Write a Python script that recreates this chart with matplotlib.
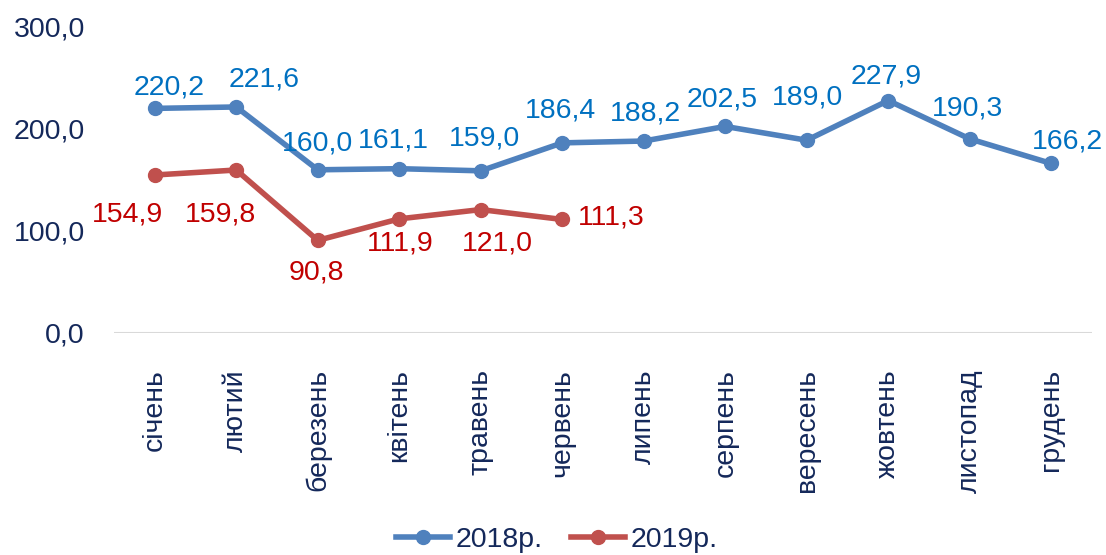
import matplotlib
matplotlib.use("Agg")
import matplotlib.pyplot as plt

months = ["січень", "лютий", "березень", "квітень", "травень", "червень",
          "липень", "серпень", "вересень", "жовтень", "листопад", "грудень"]
v2018 = [220.2, 221.6, 160.0, 161.1, 159.0, 186.4, 188.2, 202.5, 189.0, 227.9, 190.3, 166.2]
v2019 = [154.9, 159.8, 90.8, 111.9, 121.0, 111.3]
yticks = [0, 100, 200, 300]

# label offsets in pixels (dx right, dy up)
off2018 = [(14, 21), (28, 27), (0, 26), (-6, 28), (4, 32), (-2, 32),
           (2, 28), (-3, 27), (1, 43), (-2, 24), (-2, 30), (16, 22)]
off2019 = [(-27, -39), (-16, -44), (-1, -32), (1, -25), (17, -34), (49, 2)]

plt.rcParams['font.family'] = ['Liberation Sans', 'DejaVu Sans']
navy = "#14285A"
blue, red = "#4F81BD", "#C0504D"
blue_lbl, red_lbl = "#0070C0", "#C00000"
fs = 20.5

fig = plt.figure(figsize=(11.06, 5.55), dpi=100)
ax = fig.add_axes([114/1106, 1-333/555, (1092-114)/1106, (333-27)/555])
x = list(range(len(months)))
ax.plot(x, v2018, color=blue, lw=4, marker='o', ms=10, label="2018р.", zorder=3)
ax.plot(x[:len(v2019)], v2019, color=red, lw=4, marker='o', ms=10, label="2019р.", zorder=3)

def fmt(v):
    return f"{v:.1f}".replace(".", ",")

for i, v in enumerate(v2018):
    dx, dy = off2018[i]
    ax.annotate(fmt(v), (i, v), xytext=(dx, dy), textcoords='offset pixels',
                ha='center', va='center', color=blue_lbl, fontsize=fs)
for i, v in enumerate(v2019):
    dx, dy = off2019[i]
    ax.annotate(fmt(v), (i, v), xytext=(dx, dy), textcoords='offset pixels',
                ha='center', va='center', color=red_lbl, fontsize=fs)

ax.set_xlim(-0.5, len(months) - 0.5)
ax.set_ylim(0, 300)
ax.set_yticks(yticks)
ax.set_yticklabels([fmt(t) for t in yticks], color=navy, fontsize=fs)
ax.set_xticks(x)
ax.set_xticklabels(months, rotation=90, color=navy, fontsize=20.5, va='top', ha='center')
ax.tick_params(axis='both', length=0)
ax.tick_params(axis='y', pad=21)
ax.tick_params(axis='x', pad=26)
for s in ax.spines.values():
    s.set_visible(False)
ax.axhline(0, color="#D9D9D9", lw=1.5, zorder=1)

fig.legend(loc='center', bbox_to_anchor=(557/1106, 1-540/555), ncol=2, frameon=False,
           fontsize=fs, labelcolor=navy, handlelength=1.9, columnspacing=1.0,
           handletextpad=0.2)

fig.savefig("out.png", dpi=100)
